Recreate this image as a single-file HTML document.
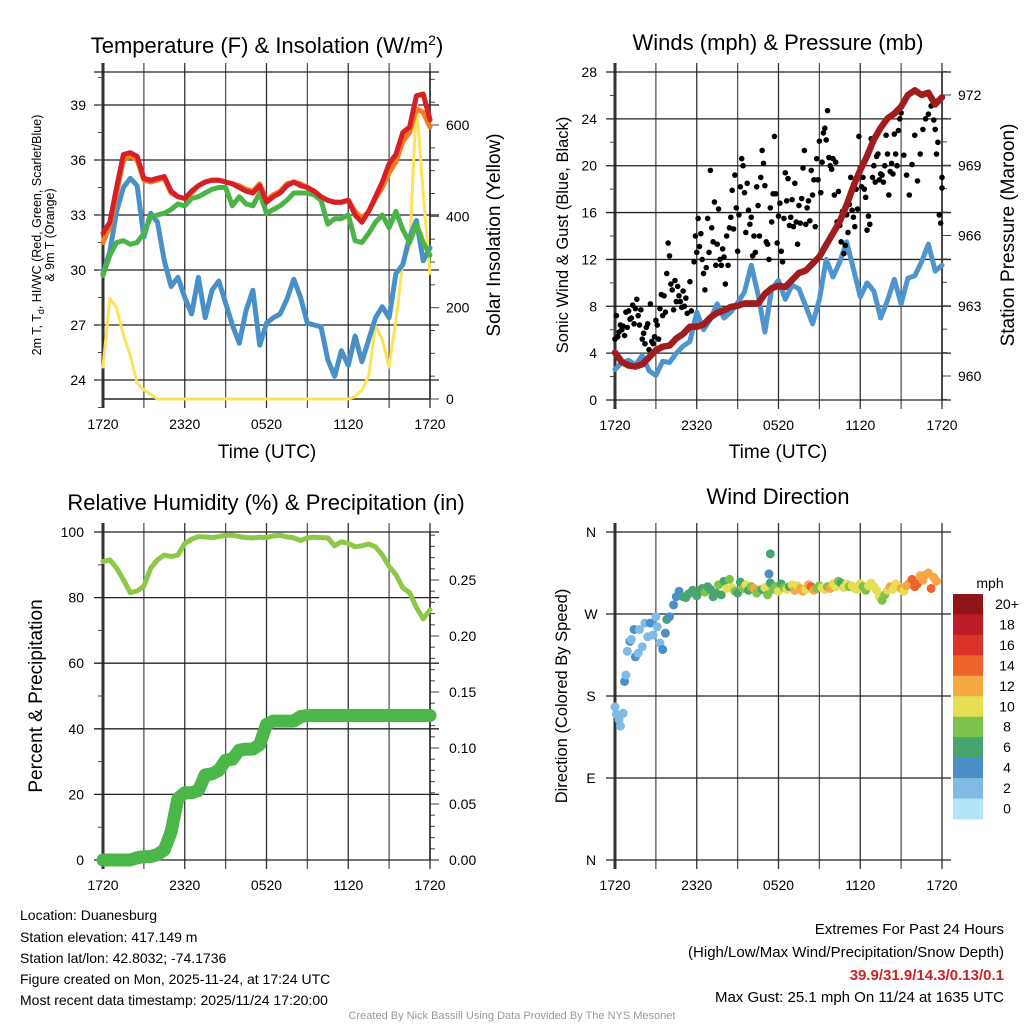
<!DOCTYPE html>
<html><head><meta charset="utf-8"><style>
html,body{margin:0;padding:0;background:#fff;}
svg{display:block;font-family:"Liberation Sans",Arial,sans-serif;}
</style></head><body>
<svg id="svg" width="1024" height="1024" viewBox="0 0 1024 1024">
<rect width="1024" height="1024" fill="#fff"/>
<text x="267" y="53" font-size="22" text-anchor="middle">Temperature (F) &amp; Insolation (W/m<tspan dy="-8" font-size="14">2</tspan><tspan dy="8">)</tspan></text>
<text x="778" y="50" font-size="22" text-anchor="middle">Winds (mph) &amp; Pressure (mb)</text>
<text x="266" y="510" font-size="22" text-anchor="middle">Relative Humidity (%) &amp; Precipitation (in)</text>
<text x="778" y="504" font-size="22" text-anchor="middle">Wind Direction</text>
<g id="p1"></g><g id="p2"></g><g id="p3"></g><g id="p4"></g>
<text x="267" y="458" font-size="19" text-anchor="middle">Time (UTC)</text>
<text x="778" y="458" font-size="19" text-anchor="middle">Time (UTC)</text>
<text transform="translate(41,235) rotate(-90)" font-size="12.5" text-anchor="middle">2m T, T<tspan font-size="9" dy="3">d</tspan><tspan dy="-3">, HI/WC (Red, Green, Scarlet/Blue)</tspan></text>
<text transform="translate(54,235) rotate(-90)" font-size="12.5" text-anchor="middle">&amp; 9m T (Orange)</text>
<text transform="translate(500,235) rotate(-90)" font-size="19" text-anchor="middle">Solar Insolation (Yellow)</text>
<text transform="translate(568,235) rotate(-90)" font-size="16.5" text-anchor="middle">Sonic Wind &amp; Gust (Blue, Black)</text>
<text transform="translate(1014,235) rotate(-90)" font-size="19" text-anchor="middle">Station Pressure (Maroon)</text>
<text transform="translate(42,696) rotate(-90)" font-size="19" text-anchor="middle">Percent &amp; Precipitation</text>
<text transform="translate(567,696) rotate(-90)" font-size="16.5" text-anchor="middle">Direction (Colored By Speed)</text>
<g font-size="14">
<text x="20" y="920">Location: Duanesburg</text>
<text x="20" y="942">Station elevation: 417.149 m</text>
<text x="20" y="963">Station lat/lon: 42.8032; -74.1736</text>
<text x="20" y="984">Figure created on Mon, 2025-11-24, at 17:24 UTC</text>
<text x="20" y="1005">Most recent data timestamp: 2025/11/24 17:20:00</text>
</g>
<g font-size="15" text-anchor="end">
<text x="1004" y="934">Extremes For Past 24 Hours</text>
<text x="1004" y="957">(High/Low/Max Wind/Precipitation/Snow Depth)</text>
<text x="1004" y="980" fill="#d02027" font-weight="bold">39.9/31.9/14.3/0.13/0.1</text>
<text x="1004" y="1002">Max Gust: 25.1 mph On 11/24 at 1635 UTC</text>
</g>
<text x="512" y="1019" font-size="11" fill="#999" text-anchor="middle">Created By Nick Bassill Using Data Provided By The NYS Mesonet</text>
</svg>
<script>
// ---- Data (half-hourly, index 0 = 1720 UTC) ----
const xLabels=["1720","2320","0520","1120","1720"];
const tempF=[32.0,32.6,34.5,36.3,36.4,36.2,35.0,34.9,35.0,35.1,34.3,34.0,33.9,34.3,34.6,34.8,34.9,34.9,34.8,34.7,34.5,34.3,34.2,34.6,33.7,34.0,34.2,34.6,34.8,34.6,34.5,34.3,34.0,33.8,33.7,33.7,33.8,33.0,32.6,33.2,34.0,34.8,35.8,36.3,37.5,37.8,39.5,39.6,38.2];
const temp9mF=[31.5,32.4,34.2,36.0,36.2,36.0,34.9,34.8,34.9,35.0,34.2,34.0,33.9,34.2,34.6,34.8,34.9,34.9,34.8,34.7,34.6,34.4,34.3,34.7,33.8,34.1,34.3,34.7,34.8,34.7,34.5,34.3,34.0,33.8,33.7,33.7,33.8,33.2,32.8,33.2,33.9,34.5,35.3,35.9,37.0,37.5,38.8,38.6,37.8];
const dewF=[29.7,30.8,31.5,31.6,31.4,31.5,32.0,32.9,33.0,33.1,33.3,33.6,33.5,33.9,34.0,34.2,34.4,34.5,34.5,33.5,34.0,33.6,33.5,34.2,33.1,33.3,33.5,33.8,34.2,34.2,34.2,34.1,33.8,32.5,32.8,32.8,33.0,31.6,31.5,32.0,32.6,33.0,32.3,33.2,32.2,31.5,32.5,31.5,30.8];
const windChillF=[29.8,31.0,33.2,34.5,35.0,34.6,31.8,33.1,32.6,30.5,29.1,29.6,28.5,27.6,29.6,27.4,28.9,29.4,28.2,27.0,26.0,27.8,28.9,25.9,27.1,27.4,27.6,28.4,29.5,28.5,27.1,27.0,26.9,25.1,24.2,25.6,24.8,26.4,25.0,26.2,27.4,28.0,27.4,29.8,30.3,31.8,32.7,30.5,31.2];
const insolation=[70,220,200,140,95,35,20,10,0,0,0,0,0,0,0,0,0,0,0,0,0,0,0,0,0,0,0,0,0,0,0,0,0,0,0,0,0,5,20,50,160,130,70,170,300,330,650,450,275];
const windMph=[2.6,3.2,3.4,3.0,3.8,2.5,2.1,3.3,3.2,4.0,4.6,5.0,7.5,6.0,6.9,8.2,7.0,7.5,8.3,9.2,11.5,9.0,5.8,9.5,10.2,8.6,9.8,9.5,8.0,6.5,8.6,12.0,10.5,11.8,13.5,11.2,8.8,10.0,9.3,7.0,8.5,10.3,8.2,10.4,10.6,11.8,13.3,11.0,11.5];
const pressureMb=[961.0,960.6,960.45,960.4,960.5,960.8,961.1,961.25,961.3,961.6,961.8,962.1,962.1,962.2,962.5,962.7,962.8,962.95,963.0,963.1,963.1,963.1,963.5,963.75,963.85,963.8,964.1,964.4,964.5,964.8,965.1,965.6,966.1,966.6,967.3,968.1,968.8,969.4,970.1,970.6,971.0,971.2,971.5,972.0,972.2,972.0,972.1,971.6,971.9];
const gustHours=[0,0.1,0.2,0.3,0.4,0.5,0.6,0.7,0.8,0.9,1.0,1.1,1.2,1.3,1.4,1.5,1.6,1.7,1.8,1.9,2.0,2.1,2.2,2.3,2.4,2.5,2.6,2.7,2.8,2.9,3.0,3.1,3.2,3.3,3.4,3.5,3.6,3.7,3.8,3.9,4.0,4.1,4.2,4.3,4.4,4.5,4.6,4.7,4.8,4.9,5.0,5.1,5.2,5.3,5.5,5.6,5.8,5.9,6.0,6.1,6.2,6.3,6.4,6.5,6.6,6.7,6.8,6.9,7.0,7.1,7.2,7.3,7.4,7.5,7.6,7.7,7.8,7.9,8.0,8.1,8.2,8.3,8.4,8.5,8.6,8.7,8.8,8.9,9.0,9.1,9.2,9.3,9.4,9.5,9.6,9.7,9.8,9.9,10.0,10.1,10.2,10.3,10.4,10.5,10.6,10.7,10.8,10.9,11.0,11.1,11.2,11.3,11.4,11.5,11.6,11.7,11.8,11.9,12.0,12.1,12.2,12.3,12.4,12.5,12.6,12.7,12.8,12.9,13.0,13.1,13.2,13.3,13.4,13.5,13.6,13.7,13.8,13.9,14.0,14.1,14.2,14.3,14.4,14.5,14.6,14.7,14.8,14.9,15.0,15.1,15.2,15.3,15.4,15.5,15.6,15.7,15.8,15.9,16.0,16.1,16.2,16.3,16.4,16.5,16.6,16.7,16.8,16.9,17.0,17.1,17.2,17.3,17.4,17.5,17.6,17.7,17.8,17.9,18.0,18.1,18.2,18.3,18.4,18.5,18.6,18.7,18.8,18.9,19.0,19.1,19.2,19.3,19.4,19.5,19.6,19.7,19.8,19.9,20.0,20.1,20.2,20.3,20.4,20.5,20.6,20.7,20.8,20.9,21.0,21.2,21.4,21.6,21.8,22.0,22.2,22.4,22.6,22.8,23.0,23.2,23.4,23.5,23.6,23.7,23.8,23.9,24.0,24.0];
const gustMph=[5.2,7.2,5.4,5.8,6.4,6.0,6.3,5.5,7.5,6.2,7.6,6.9,7.0,8.1,6.5,7.8,8.6,7.2,6.4,7.7,5.2,5.7,4.8,6.2,6.5,4.3,8.2,5.0,4.8,5.4,6.8,6.4,5.2,7.8,9.0,7.2,8.9,7.5,10.8,13.4,12.3,9.9,9.4,7.7,10.2,8.4,9.7,8.9,8.4,7.9,9.3,8.0,8.7,7.4,10.1,7.6,11.8,14.0,12.6,15.5,13.1,14.2,12.0,10.8,9.4,11.3,15.5,12.6,19.6,14.7,13.5,16.9,11.5,13.3,16.3,12.0,11.5,12.9,12.2,9.9,14.0,11.5,14.7,15.6,17.9,14.6,19.2,16.4,12.7,15.8,18.2,20.6,20.0,17.7,14.3,18.5,16.2,15.0,15.6,12.3,14.0,12.6,18.2,16.6,14.0,19.0,21.3,20.2,18.3,13.5,13.3,12.0,16.4,15.2,17.6,22.5,17.6,13.4,15.7,16.8,12.7,11.8,15.5,19.4,17.0,18.9,14.9,15.6,17.1,14.8,18.5,15.2,13.3,16.6,15.1,17.2,19.8,21.3,15.0,16.4,17.0,15.3,19.6,17.5,18.8,14.8,20.6,18.8,22.1,17.7,20.3,22.8,23.2,22.2,24.7,20.7,20.0,19.7,20.6,17.5,20.3,15.2,17.8,14.9,13.5,16.1,12.5,13.2,15.8,14.3,16.7,19.0,16.2,15.6,14.8,18.0,16.3,22.5,19.8,18.2,19.0,18.0,17.3,14.5,15.7,15.0,22.3,19.0,20.0,18.6,20.8,21.0,18.8,19.3,19.2,18.6,20.0,22.6,21.0,17.5,19.5,20.2,19.3,22.7,21.0,20.0,23.0,24.0,24.5,20.9,19.2,17.5,20.1,22.6,18.7,21.0,23.1,24.0,24.4,25.1,23.9,23.1,21.0,22.0,15.8,15.1,19.0,18.1];
const rhPct=[91,91.5,89,85.5,81.5,82,83.5,89,91.5,93,92.5,93,96.5,97.8,98.6,98.5,98.3,98.6,99,99,98.6,98.3,98.2,98.4,98.3,98.8,99,98.5,98.2,97.4,98.2,98.4,98.3,98.2,95.8,97,96.5,95.5,95.8,96.3,95.5,93,89.5,87,83,81.5,77,73.5,76.3];
const precipIn=[0,0,0,0,0,0.002,0.003,0.003,0.005,0.009,0.025,0.055,0.060,0.060,0.062,0.076,0.077,0.080,0.089,0.090,0.098,0.099,0.099,0.103,0.121,0.124,0.124,0.124,0.124,0.128,0.129,0.129,0.129,0.129,0.129,0.129,0.129,0.129,0.129,0.129,0.129,0.129,0.129,0.129,0.129,0.129,0.129,0.129,0.129];
const dirHours=[11.4,11.3,0,0.1,0.3,0.4,0.6,0.7,0.8,0.9,1.1,1.2,1.4,1.5,1.7,1.8,2.0,2.2,2.4,2.6,2.8,3.0,3.1,3.3,3.5,3.7,3.8,4.0,4.3,4.5,4.7,5.0,5.2,5.4,5.7,6.0,6.2,6.4,6.6,6.8,7.0,7.2,7.4,7.6,7.8,8.0,8.2,8.4,8.6,8.8,9.0,9.2,9.4,9.6,9.8,10.0,10.2,10.4,10.6,10.8,11.0,11.2,11.4,11.6,11.8,12.0,12.2,12.4,12.6,12.8,13.0,13.2,13.4,13.6,13.8,14.0,14.2,14.4,14.6,14.8,15.0,15.2,15.4,15.6,15.8,16.0,16.2,16.4,16.6,16.8,17.0,17.2,17.4,17.6,17.8,18.0,18.2,18.4,18.6,18.8,19.0,19.2,19.4,19.6,19.8,20.0,20.2,20.4,20.6,20.8,21.0,21.2,21.4,21.6,21.8,22.0,22.2,22.4,22.6,22.8,23.0,23.2,23.4,23.6,23.8,24.0];
const dirDeg=[336,314,168,160,154,147,161,196,203,229,240,242,253,223,227,253,234,260,245,260,247,267,256,238,231,249,264,267,280,289,295,289,288,292,296,290,295,298,294,300,297,289,293,302,291,306,298,308,299,295,293,305,298,302,296,300,298,293,296,297,299,291,304,297,300,295,303,299,297,300,302,296,301,298,295,297,302,300,296,298,301,299,297,300,298,303,300,306,304,299,303,300,301,298,297,303,300,296,301,304,300,296,289,285,291,296,300,297,303,300,298,295,301,304,308,300,303,312,307,313,315,298,310,306];
const dirSpeed=[7,4,2,2,2,2,2,4,2,2,4,3,4,4,2,2,2,2,2,4,2,2,2,2,4,4,6,4,4,4,4,7,6,7,6,7,6,7,8,7,6,6,7,8,7,6,10,9,11,8,7,7,8,10,7,8,12,9,8,7,10,8,7,9,8,10,7,8,10,7,11,12,10,12,13,10,12,14,13,9,8,10,11,9,12,10,11,9,7,10,11,8,10,10,11,10,9,8,10,11,10,10,10,9,8,11,12,11,10,11,12,11,12,13,14,15,15,12,13,13,12,14,13,12];
const speedLabels=["0","2","4","6","8","10","12","14","16","18","20+"];
const speedColors=["#b3e4f8","#80bbe5","#4a8fc7","#49a56f","#7cc24b","#e6df55","#f6a844","#ef642c","#dd3229","#bd1d26","#901519"];

const NS="http://www.w3.org/2000/svg";
function mk(parent,tag,attrs){const e=document.createElementNS(NS,tag);for(const k in attrs)e.setAttribute(k,attrs[k]);parent.appendChild(e);return e;}
const X0=103,X1=430,X0b=615,X1b=942;
function xAt(h,x0,x1){return x0+(h/24)*(x1-x0);}
function lin(v,v0,y0,v1,y1){return y0+(v-v0)*(y1-y0)/(v1-v0);}

function frame(g,x0,x1,top,bot,name){
  for(let k=0;k<=8;k++){const x=xAt(k*3,x0,x1);
    const l=mk(g,'line',{x1:x,x2:x,y1:top-9,y2:bot+9,stroke:k%2?'#555':'#333','stroke-width':k===0?3:1.3});
    
    }
  xLabels.forEach((s,k)=>{const t=mk(g,'text',{x:xAt(k*6,x0,x1),y:bot+30,'font-size':14,'text-anchor':'middle'});t.textContent=s;
    
    });
}
function hgrid(g,y,x0,x1,name){const l=mk(g,'line',{x1:x0-9,x2:x1+9,y1:y,y2:y,stroke:'#222','stroke-width':1.3});
  
  }
function tickL(g,y,x0,len){mk(g,'line',{x1:x0-len,x2:x0,y1:y,y2:y,stroke:'#444','stroke-width':1});}
function tickR(g,y,x1,len){mk(g,'line',{x1:x1,x2:x1+len,y1:y,y2:y,stroke:'#444','stroke-width':1});}
function label(g,x,y,s,anchor,name){const t=mk(g,'text',{x:x,y:y+5,'font-size':14,'text-anchor':anchor});t.textContent=s;
  
  }
function line(g,vals,x0,x1,yf,color,w,name){const pts=vals.map((v,i)=>xAt(i*0.5,x0,x1).toFixed(1)+','+yf(v).toFixed(1)).join(' ');
  const p=mk(g,'polyline',{points:pts,fill:'none',stroke:color,'stroke-width':w,'stroke-linejoin':'round','stroke-linecap':'round'});
  
  }

// Panel 1
(function(){const g=document.getElementById('p1');const top=72,bot=399;
  const yT=v=>lin(v,24,380,39,105), yS=v=>lin(v,0,399,600,125);
  frame(g,X0,X1,top,bot,'temp');
  hgrid(g,top,X0,X1,'temp-top-border');
  [24,27,30,33,36,39].forEach(v=>{hgrid(g,yT(v),X0,X1,'temp-hgrid');label(g,86,yT(v),String(v),'end','temp-y-tick-label');});
  for(let v=22.5;v<=40.5;v+=1.5)tickL(g,yT(v),X0,5);
  for(let v=0;v<=700;v+=50)tickR(g,yS(v),X1,v%200?5:9);
  [0,200,400,600].forEach(v=>label(g,446,yS(v),String(v),'start','insolation-tick-label'));
  mk(g,'line',{x1:X1,x2:X1,y1:top,y2:bot,stroke:'#222','stroke-width':1.5});
  mk(g,'line',{x1:X0,x2:X1,y1:bot,y2:bot,stroke:'#222','stroke-width':1.5});
  line(g,insolation,X0,X1,yS,'#fbe35b',3,'insolation-line');
  line(g,windChillF,X0,X1,yT,'#4a90c8',5,'windchill-line');
  line(g,dewF,X0,X1,yT,'#4bb447',5,'dewpoint-line');
  line(g,temp9mF,X0,X1,yT,'#f47b20',5,'temp-9m-line');
  line(g,tempF,X0,X1,yT,'#d62027',5,'temp-2m-line');
})();
// Panel 2
(function(){const g=document.getElementById('p2');const top=72,bot=400;
  const yW=v=>lin(v,0,400,28,72), yP=v=>lin(v,960,376,972,95);
  frame(g,X0b,X1b,top,bot,'winds');
  [0,4,8,12,16,20,24,28].forEach(v=>{hgrid(g,yW(v),X0b,X1b,'winds-hgrid');label(g,597,yW(v),String(v),'end','wind-y-tick-label');});
  for(let v=2;v<28;v+=4)tickL(g,yW(v),X0b,5);
  for(let v=959;v<=973;v++)tickR(g,yP(v),X1b,(v%3)?5:9);
  [960,963,966,969,972].forEach(v=>label(g,958,yP(v),String(v),'start','pressure-tick-label'));
  mk(g,'line',{x1:X1b,x2:X1b,y1:top,y2:bot,stroke:'#222','stroke-width':1.5});
  line(g,windMph,X0b,X1b,yW,'#4e95d0',5,'sustained-wind-line');
  const n=Math.min(gustHours.length,gustMph.length);
  for(let i=0;i<n;i++){const c=mk(g,'circle',{cx:xAt(gustHours[i],X0b,X1b),cy:yW(gustMph[i]),r:2.8,fill:'#000'});
    
    }
  line(g,pressureMb,X0b,X1b,yP,'#a01c1e',6.5,'pressure-line');
})();
// Panel 3
(function(){const g=document.getElementById('p3');const top=532,bot=860;
  const yR=v=>lin(v,0,860,100,532), yQ=v=>lin(v,0,860,0.25,580);
  frame(g,X0,X1,top,bot,'humidity');
  [0,20,40,60,80,100].forEach(v=>{hgrid(g,yR(v),X0,X1,'humidity-hgrid');label(g,84,yR(v),String(v),'end','humidity-y-tick-label');});
  for(let v=10;v<100;v+=20)tickL(g,yR(v),X0,5);
  for(let k=0;k<=29;k++){const v=k*0.01;tickR(g,yQ(v),X1,k%5?5:9);}
  [0,0.05,0.1,0.15,0.2,0.25].forEach(v=>label(g,449,yQ(v),v.toFixed(2),'start','precip-tick-label'));
  mk(g,'line',{x1:X1,x2:X1,y1:top,y2:bot,stroke:'#222','stroke-width':1.5});
  line(g,precipIn,X0,X1,yQ,'#4ab748',13,'precip-line');
  line(g,rhPct,X0,X1,yR,'#8dc846',5,'humidity-line');
})();
// Panel 4
(function(){const g=document.getElementById('p4');const top=532,bot=860;
  const yD=v=>lin(v,0,860,360,532);
  frame(g,X0b,X1b,top,bot,'direction');
  [[0,'N'],[90,'E'],[180,'S'],[270,'W'],[360,'N']].forEach(([v,s])=>{hgrid(g,yD(v),X0b,X1b,'direction-hgrid');label(g,591,yD(v),s,'middle','direction-tick-label');});
  const n=Math.min(dirHours.length,dirDeg.length,dirSpeed.length);
  for(let i=0;i<n;i++){const idx=Math.min(10,Math.floor(dirSpeed[i]/2));
    const c=mk(g,'circle',{cx:xAt(dirHours[i],X0b,X1b),cy:yD(dirDeg[i]),r:4.5,fill:speedColors[idx]});
    
    }
  const t=mk(g,'text',{x:990,y:588,'font-size':14,'text-anchor':'middle'});t.textContent='mph';
  
  
  const cb0=594,cbH=20.45;
  for(let k=0;k<11;k++){const idx=10-k;
    const r=mk(g,'rect',{x:953,y:cb0+k*cbH,width:30,height:cbH+0.5,fill:speedColors[idx]});
    
    
    const l=mk(g,'text',{x:1007,y:cb0+k*cbH+15,'font-size':14,'text-anchor':'middle'});l.textContent=speedLabels[idx];
    
    }
})();
</script>
</body></html>
